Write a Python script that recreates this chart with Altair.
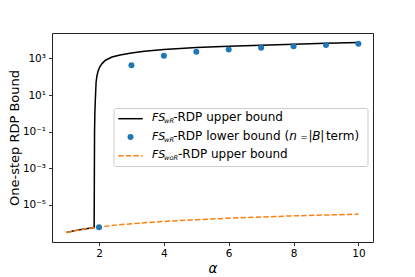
import altair as alt
import pandas as pd

# ---- data ----
alpha_upper = [1.0, 1.25, 1.5, 1.75, 1.85, 1.855, 1.862, 1.872, 1.886, 1.91, 1.935, 1.97, 2.02,
               2.1, 2.2, 2.4, 2.65, 3.0, 3.4, 4.0, 4.5, 5.0, 6.0, 7.0, 8.0, 9.0, 10.0]
upper_vals = [3.1e-7, 3.9e-7, 4.65e-7, 5.4e-7, 5.7e-7, 1e-4, 1e-1, 1.0, 5.4, 50, 110, 200, 340,
              540, 800, 1200, 1550, 2000, 2500, 3050, 3500, 3900, 4650, 5300, 6000, 6700, 7400]

alpha_lower = [2, 3, 4, 5, 6, 7, 8, 9, 10]
lower_vals = [6.0e-7, 430, 1390, 2290, 3100, 3800, 4700, 5500, 6300]

alpha_wor = [1.0, 1.5, 2.0, 2.5, 3.0, 4.0, 5.0, 6.0, 7.0, 8.0, 9.0, 10.0]
wor_vals = [3.1e-7, 4.65e-7, 6.2e-7, 7.8e-7, 9.3e-7, 1.24e-6, 1.55e-6, 1.86e-6, 2.17e-6,
            2.5e-6, 2.8e-6, 3.1e-6]

x_ticks = [2, 4, 6, 8, 10]
y_ticks = [1e-5, 1e-3, 1e-1, 1e1, 1e3]

W, H = 321, 209
FONT = "DejaVu Sans"
BLUE = "#1f77b4"
ORANGE = "#ff7f0e"

df_up = pd.DataFrame({"alpha": alpha_upper, "v": upper_vals})
df_lo = pd.DataFrame({"alpha": alpha_lower, "v": lower_vals})
df_wor = pd.DataFrame({"alpha": alpha_wor, "v": wor_vals})

xscale = alt.Scale(domain=[0.55, 10.45], nice=False, zero=False)
yscale = alt.Scale(type="log", domain=[10 ** -7.03, 10 ** 4.39], nice=False)

ylabel_expr = ("datum.value < 1e-4 ? '10⁻⁵' : datum.value < 1e-2 ? '10⁻³' : "
               "datum.value < 1 ? '10⁻¹' : datum.value < 100 ? '10¹' : '10³'")

x_axis = alt.Axis(values=x_ticks, title="α", titleFontStyle="italic", titleFont=FONT,
                  titleFontSize=13.5, titleFontWeight="normal", titleColor="black",
                  titleY=30, titleBaseline="alphabetic", format="d",
                  grid=False, domain=False, ticks=True, labels=True,
                  tickColor="black", tickSize=3.5, tickWidth=0.8,
                  labelFont=FONT, labelFontSize=10.5, labelColor="black", labelPadding=3)
y_axis = alt.Axis(values=y_ticks, labelExpr=ylabel_expr, title="One-step RDP Bound",
                  titleFont=FONT, titleFontSize=13, titleFontWeight="normal",
                  titleColor="black", titleX=-33.3, titleY=H / 2, titleAngle=270,
                  titleBaseline="alphabetic", titleAlign="center",
                  grid=False, domain=False, ticks=True, labels=True,
                  tickColor="black", tickSize=3.5, tickWidth=0.8,
                  labelFont=FONT, labelFontSize=10.5, labelColor="black", labelPadding=3)

X = alt.X("alpha:Q", scale=xscale, axis=x_axis)
Y = alt.Y("v:Q", scale=yscale, axis=y_axis)

upper = alt.Chart(df_up).mark_line(color="black", strokeWidth=1.5, clip=True).encode(x=X, y=Y)
wor = alt.Chart(df_wor).mark_line(color=ORANGE, strokeWidth=1.5, strokeDash=[5.3, 2.3],
                                  clip=True).encode(x=X, y=Y)
lower = alt.Chart(df_lo).mark_circle(color=BLUE, size=36, opacity=1).encode(x=X, y=Y)

# ---- hand-built legend (matplotlib style) ----
LX0, LX1, LY0, LY1 = 62, 316, 75.5, 133.5
legend_box = alt.Chart().mark_rect(fill="white", fillOpacity=0.8, stroke="#cccccc",
                                   strokeWidth=1, cornerRadius=2).encode(
    x=alt.value(LX0), x2=alt.value(LX1), y=alt.value(LY0), y2=alt.value(LY1))

sym_x0, sym_x1 = 66.3, 90.7
rows_y = [85.7, 104.0, 122.7]
base_y = [88.3, 107.0, 125.0]
TX = 100

sym1 = alt.Chart().mark_rule(color="black", strokeWidth=1.5).encode(
    x=alt.value(sym_x0), x2=alt.value(sym_x1), y=alt.value(rows_y[0]))
sym2 = alt.Chart().mark_circle(color=BLUE, size=36, opacity=1).encode(
    x=alt.value((sym_x0 + sym_x1) / 2), y=alt.value(rows_y[1]))
sym3 = alt.Chart().mark_rule(color=ORANGE, strokeWidth=1.5, strokeDash=[5.3, 2.3]).encode(
    x=alt.value(sym_x0), x2=alt.value(sym_x1), y=alt.value(rows_y[2]))


def seg(text, dx, row, italic=False, size=12, dy=0.0):
    return alt.Chart().mark_text(text=text, font=FONT, fontSize=size,
                                 fontStyle="italic" if italic else "normal",
                                 align="left", baseline="alphabetic", color="black").encode(
        x=alt.value(TX + dx), y=alt.value(base_y[row] + dy))


SUB = 6.6
legend_text = [
    seg("FS", 0, 0, True, 11), seg("wR", 12.0, 0, True, SUB, 2.0),
    seg("-RDP upper bound", 21.2, 0),
    seg("FS", 0, 1, True, 11), seg("wR", 12.0, 1, True, SUB, 2.0),
    seg("-RDP lower bound (", 21.2, 1),
    seg("n", 137.2, 1, True), seg("=", 148.2, 1, False, 9), seg("|", 156.4, 1),
    seg("B", 160.3, 1, True), seg("|", 168.2, 1), seg("term)", 173.9, 1),
    seg("FS", 0, 2, True, 11), seg("woR", 12.0, 2, True, SUB, 2.0),
    seg("-RDP upper bound", 26.0, 2),
]

chart = alt.layer(upper, wor, lower, legend_box, sym1, sym2, sym3, *legend_text).properties(
    width=W, height=H,
    autosize=alt.AutoSizeParams(type="none"),
    padding={"left": 44, "top": 25, "right": 34, "bottom": 34},
).configure_view(stroke="#222222", strokeWidth=1)

chart.save("out.html", embed_options={"renderer": "svg", "actions": False})
